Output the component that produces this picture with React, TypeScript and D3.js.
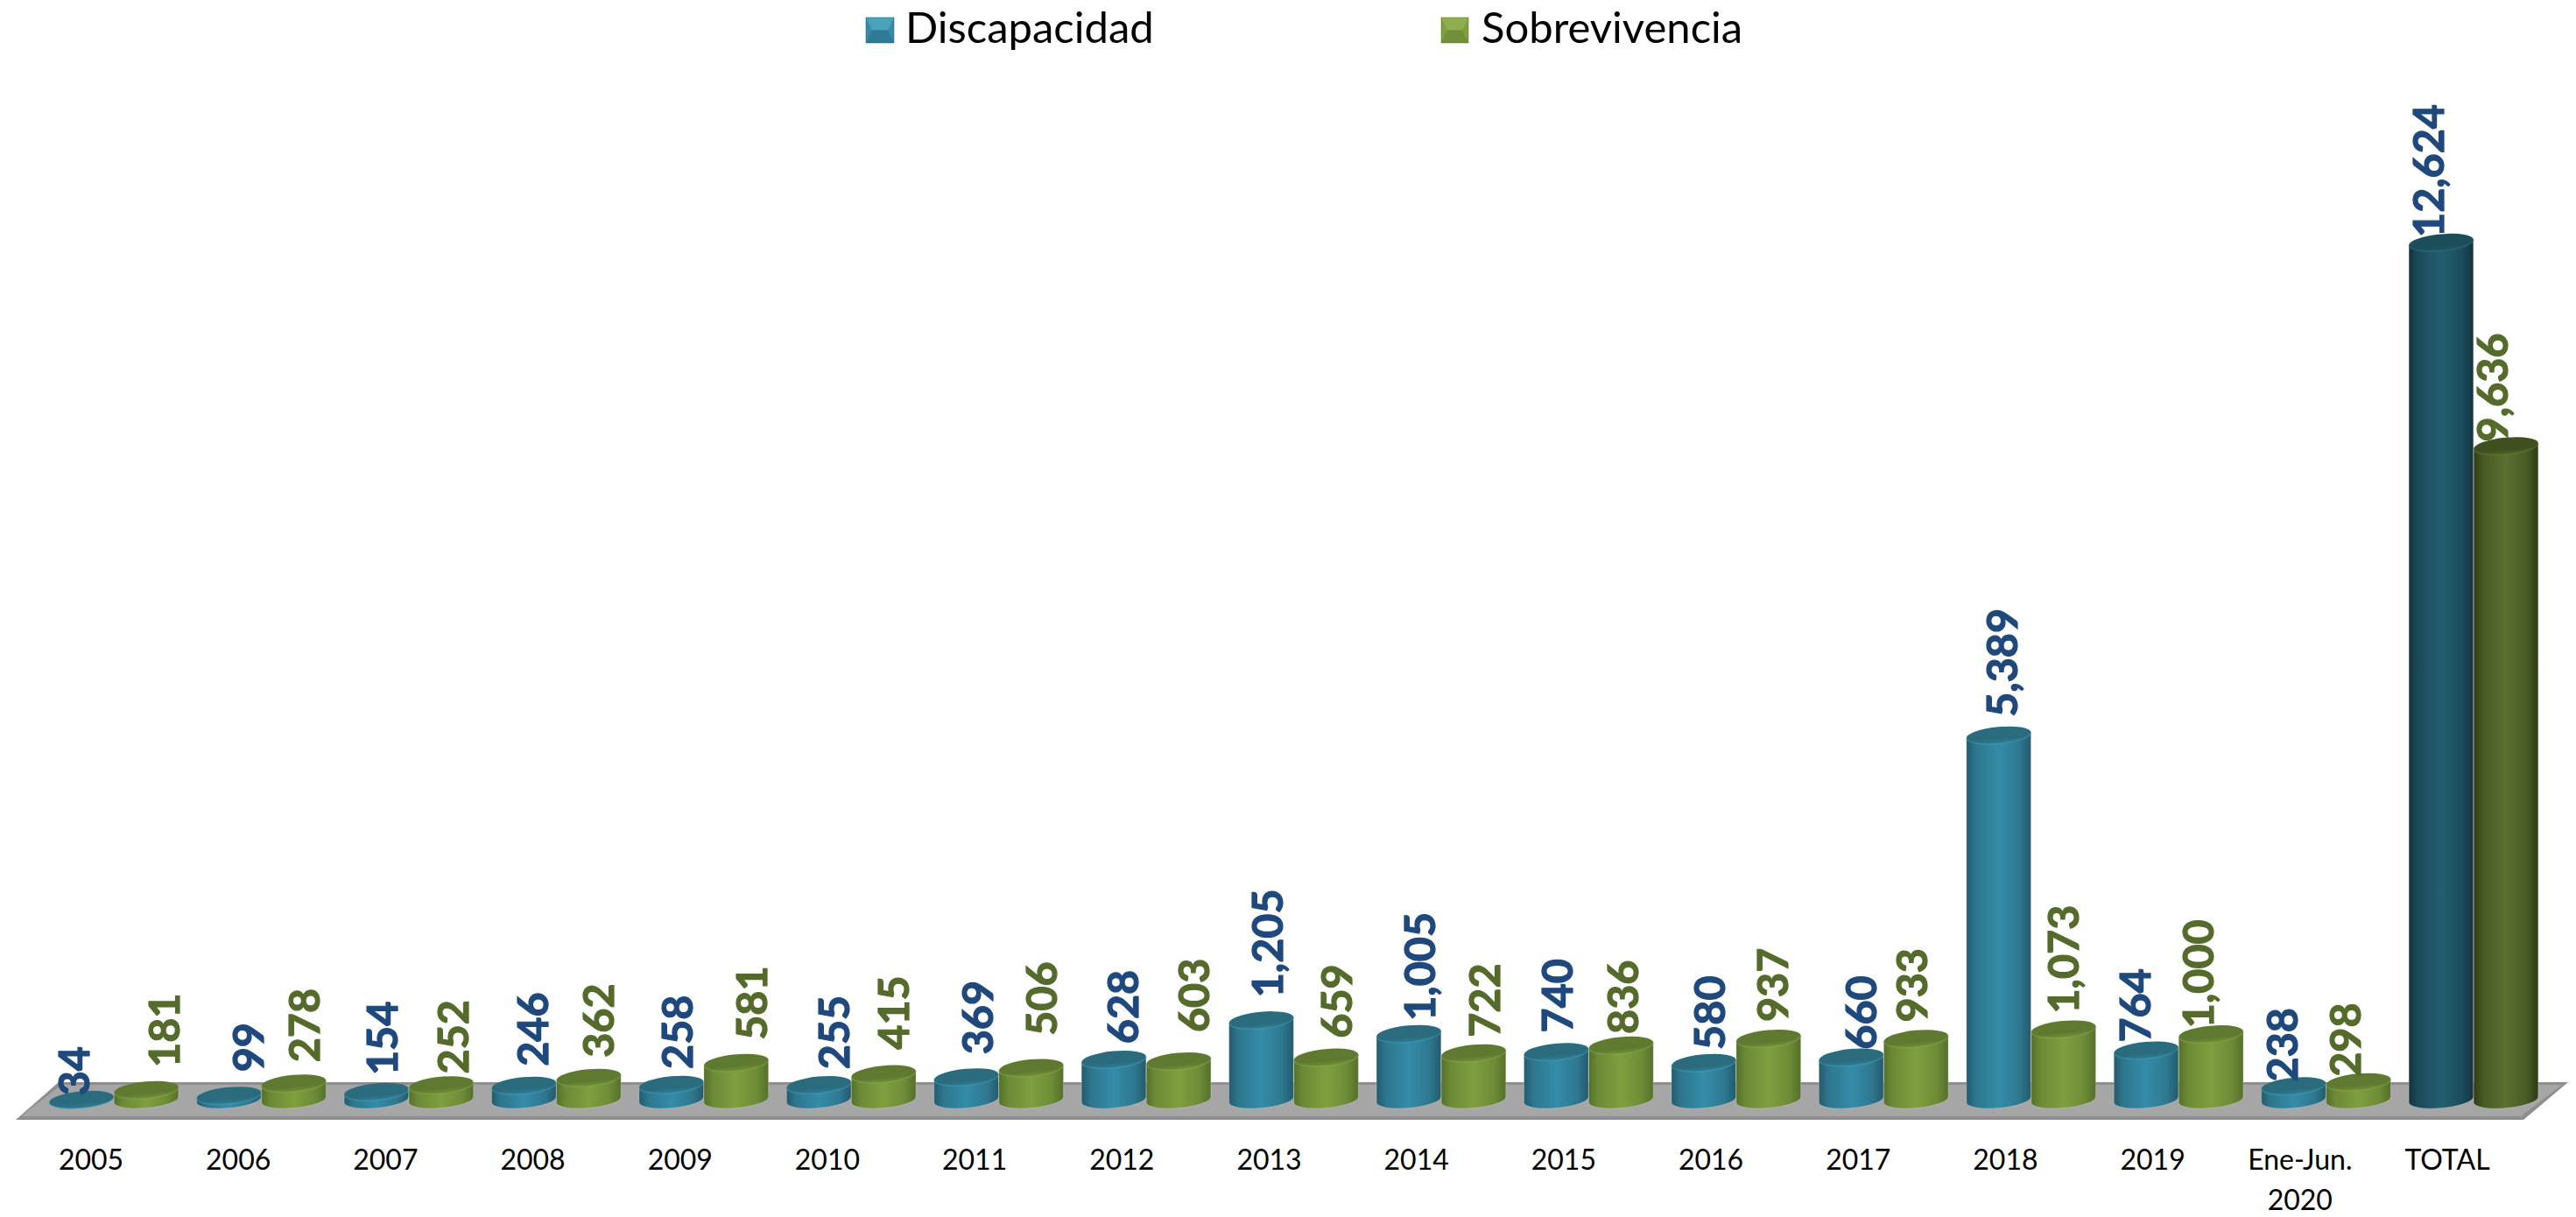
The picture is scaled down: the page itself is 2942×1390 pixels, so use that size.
import React from "react";
import * as d3 from "d3";

const categories = ["2005","2006","2007","2008","2009","2010","2011","2012","2013","2014","2015","2016","2017","2018","2019","Ene-Jun.|2020","TOTAL"];
const discapacidad = [34,99,154,246,258,255,369,628,1205,1005,740,580,660,5389,764,238,12624];
const sobrevivencia = [181,278,252,362,581,415,506,603,659,722,836,937,933,1073,1000,298,9636];
const seriesNames = ["Discapacidad","Sobrevivencia"];

// Hand placement of the value labels in the source chart, as nudges from the default spot above each bar.
const labelNudgeX = [
  [-21,10,-5,-2,-5,5,1,-2,-5,1,-11,-5,-1,-8,-25,-25,-26],
  [8,0,2,-1,6,-1,0,5,0,1,-10,-7,-17,-12,-27,-27,-27],
];
const labelNudgeY = [
  [15,-7,1,-2,2,2,-6,2,-6,5,-2,5,11,-1,11,15,14],
  [-6,-4,7,-3,-6,-8,-17,-13,-2,2,7,1,1,2,13,14,15],
];

const FONT = "Lato, Carlito, sans-serif";
const W = 2942, H = 1390;
const x0 = d3.scaleBand<string>().domain(categories).range([56, 2899]).paddingInner(20.4 / 168.4);
const x1 = d3.scaleBand<number>().domain([0, 1]).range([0, x0.bandwidth()]);
const xLabel = d3.scalePoint<string>().domain(categories).range([104, 2795]);
const y = d3.scaleLinear().domain([0, 12624]).range([1259, 277]);
const fmt = d3.format(",");
const TILT = 5.3;
const RY = 9.6;
const BASE_LIFT = 3;

const palette = [
  { edge: "#245a6d", mid: "#348ca8", cap: "#2a6b7e", rim: "#4aa3bb", text: "#1f497d" },
  { edge: "#54702a", mid: "#7f9f3f", cap: "#5f7a30", rim: "#8fae50", text: "#556b2b" },
];
const paletteTotal = [
  { edge: "#12343f", mid: "#235e70", cap: "#1b4d5b", rim: "#33798c", text: "#1f497d" },
  { edge: "#2e3b14", mid: "#5a7130", cap: "#3f4f1e", rim: "#6a8438", text: "#556b2b" },
];

function Cylinder({ cx, rx, value, s, total }: { cx: number; rx: number; value: number; s: number; total: boolean }) {
  const yBase = y(0) - BASE_LIFT;
  const yTop = Math.min(y(value), yBase);
  const dy = rx * Math.sin((TILT * Math.PI) / 180);
  const dx = rx * Math.cos((TILT * Math.PI) / 180);
  const id = `${total ? "t" : "n"}${s}`;
  const c = (total ? paletteTotal : palette)[s];
  const rot = -TILT;
  const body = `M${cx - dx},${yTop + dy} L${cx - dx},${yBase + dy} A${rx},${RY} ${rot} 0 0 ${cx + dx},${yBase - dy} L${cx + dx},${yTop - dy} Z`;
  const rim = `M${cx - dx},${yTop + dy} A${rx},${RY} ${rot} 0 0 ${cx + dx},${yTop - dy}`;
  return (
    <g>
      <path d={body} fill={`url(#body-${id})`} stroke="#ffffff" strokeOpacity={0.25} strokeWidth={1} />
      <ellipse cx={cx} cy={yTop} rx={rx} ry={RY} transform={`rotate(${rot} ${cx} ${yTop})`} fill={`url(#cap-${id})`} />
      <path d={rim} fill="none" stroke={c.rim} strokeWidth={1.5} strokeOpacity={0.45} />
    </g>
  );
}

function LegendMark({ x, y: yy, w, h, c }: { x: number; y: number; w: number; h: number; c: typeof palette[0] }) {
  const i = 7;
  return (
    <g>
      <rect x={x} y={yy} width={w} height={h} fill={c.mid} />
      <polygon points={`${x},${yy} ${x + w},${yy} ${x + w - i},${yy + h / 2} ${x + i},${yy + h / 2}`} fill={c.rim} />
      <polygon points={`${x},${yy + h} ${x + w},${yy + h} ${x + w - i},${yy + h / 2} ${x + i},${yy + h / 2}`} fill={d3.interpolateRgb(c.mid, c.edge)(0.35)} />
      <rect x={x} y={yy} width={w} height={h} fill="none" stroke={c.edge} strokeWidth={1} strokeOpacity={0.5} />
    </g>
  );
}

export default function App() {
  document.body.style.margin = "0";
  const rx = x1.bandwidth() / 2;
  const allSets = [false, true];
  return (
    <svg width={W} height={H} style={{ display: "block", background: "#fff" }} fontFamily={FONT}>
      <defs>
        {allSets.map((t) =>
          (t ? paletteTotal : palette).map((c, s) => (
            <React.Fragment key={`${t}${s}`}>
              <linearGradient id={`body-${t ? "t" : "n"}${s}`} x1="0" x2="1" y1="0" y2="0">
                <stop offset="0" stopColor={c.edge} />
                <stop offset="0.14" stopColor={d3.interpolateRgb(c.edge, c.mid)(0.55)} />
                <stop offset="0.5" stopColor={c.mid} />
                <stop offset="0.82" stopColor={d3.interpolateRgb(c.edge, c.mid)(0.6)} />
                <stop offset="1" stopColor={c.edge} />
              </linearGradient>
              <linearGradient id={`cap-${t ? "t" : "n"}${s}`} x1="0" x2="0" y1="0" y2="1">
                <stop offset="0" stopColor={c.cap} />
                <stop offset="0.7" stopColor={c.cap} />
                <stop offset="1" stopColor={d3.interpolateRgb(c.cap, c.mid)(0.6)} />
              </linearGradient>
            </React.Fragment>
          ))
        )}
      </defs>

      <polygon points="18,1279 67,1236 2933,1236 2882,1279" fill="#8e8e8e" />
      <polygon points="24,1275 70,1239 2926,1239 2879,1275" fill="#a6a6a6" />

      {categories.map((cat, i) => {
        const gx = x0(cat)!;
        const total = cat === "TOTAL";
        return (
          <g key={cat}>
            <Cylinder cx={gx + x1(0)! + rx} rx={rx} value={discapacidad[i]} s={0} total={total} />
            <Cylinder cx={gx + x1(1)! + rx} rx={rx} value={sobrevivencia[i]} s={1} total={total} />
          </g>
        );
      })}

      {categories.map((cat, i) => {
        const gx = x0(cat)!;
        return [discapacidad[i], sobrevivencia[i]].map((v, s) => {
          const cx = gx + x1(s)! + rx + 12 + labelNudgeX[s][i];
          const by = y(v) - 20 + labelNudgeY[s][i];
          return (
            <text
              key={s}
              transform={`translate(${cx + 17.5},${by}) rotate(-90)`}
              fontSize={48.5}
              fontWeight={700}
              fill={palette[s].text}
              stroke={palette[s].text}
              strokeWidth={1.2}
            >
              {fmt(v)}
            </text>
          );
        });
      })}

      {categories.map((cat) =>
        cat.split("|").map((line, j) => (
          <text key={cat + j} x={xLabel(cat)!} y={1336 + j * 46} textAnchor="middle" fontSize={32} fill="#000">
            {line}
          </text>
        ))
      )}

      <LegendMark x={989} y={20} w={32} h={29} c={palette[0]} />
      <text x={1034} y={49} fontSize={49} fill="#000">{seriesNames[0]}</text>
      <LegendMark x={1646} y={20} w={31} h={29} c={palette[1]} />
      <text x={1692} y={49} fontSize={49} fill="#000">{seriesNames[1]}</text>
    </svg>
  );
}
